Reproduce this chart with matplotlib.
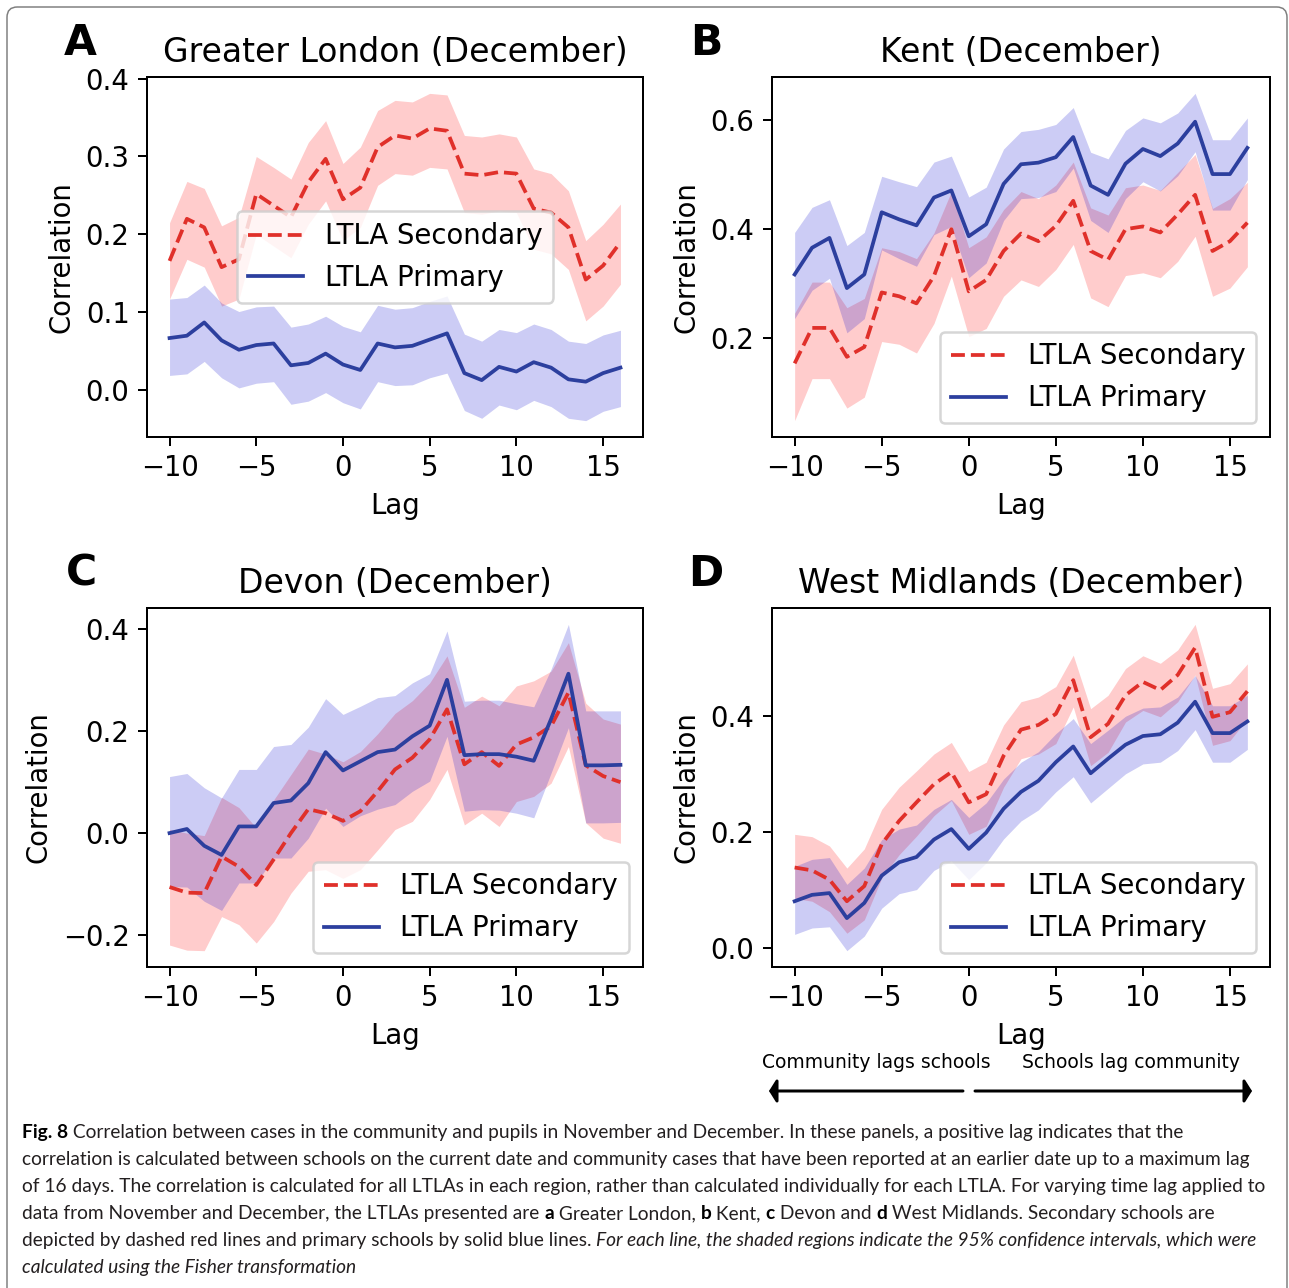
"""
Fig. 8: correlación entre casos en la comunidad y alumnos (noviembre/diciembre).
Cuatro paneles con IC 95 % sombreados y pie de figura debajo.
"""

import matplotlib
matplotlib.use("Agg")  # sin ventana
import matplotlib.pyplot as plt
from matplotlib.patches import FancyBboxPatch, FancyArrowPatch

ANCHO, ALTO, DPI = 1289, 1288, 180

plt.rcParams["font.size"] = 11

# ---------------------------------------------------------------------------
# Datos (lag -10 ... 16)
# ---------------------------------------------------------------------------
LAGS = [-10, -9, -8, -7, -6, -5, -4, -3, -2, -1, 0, 1, 2, 3, 4, 5,
        6, 7, 8, 9, 10, 11, 12, 13, 14, 15, 16]

# A: Greater London
A_sec = [0.166, 0.220, 0.209, 0.158, 0.168, 0.252, 0.237, 0.222, 0.267, 0.297, 0.245, 0.260, 0.312, 0.327,
         0.323, 0.336, 0.333, 0.278, 0.276, 0.280, 0.278, 0.233, 0.228, 0.209, 0.142, 0.160, 0.190]
A_sec_hi = [0.215, 0.268, 0.259, 0.211, 0.222, 0.300, 0.286, 0.271, 0.318, 0.346, 0.291, 0.312, 0.359, 0.372,
            0.370, 0.381, 0.379, 0.327, 0.325, 0.329, 0.325, 0.284, 0.278, 0.256, 0.192, 0.213, 0.239]
A_sec_lo = [0.117, 0.168, 0.158, 0.108, 0.117, 0.200, 0.185, 0.170, 0.213, 0.243, 0.192, 0.209, 0.263, 0.278,
            0.276, 0.286, 0.284, 0.228, 0.226, 0.230, 0.228, 0.181, 0.175, 0.155, 0.089, 0.108, 0.136]
A_pri = [0.067, 0.070, 0.087, 0.064, 0.052, 0.058, 0.060, 0.032, 0.035, 0.047, 0.033, 0.026, 0.060, 0.055,
         0.057, 0.065, 0.073, 0.022, 0.013, 0.030, 0.024, 0.036, 0.029, 0.014, 0.011, 0.022, 0.029]
A_pri_hi = [0.117, 0.119, 0.135, 0.112, 0.101, 0.107, 0.108, 0.081, 0.085, 0.095, 0.082, 0.075, 0.109, 0.104,
            0.106, 0.114, 0.121, 0.072, 0.063, 0.078, 0.074, 0.085, 0.078, 0.063, 0.060, 0.071, 0.077]
A_pri_lo = [0.019, 0.021, 0.037, 0.016, 0.003, 0.009, 0.011, -0.018, -0.014, -0.003, -0.016, -0.024, 0.011, 0.006,
            0.007, 0.016, 0.022, -0.026, -0.036, -0.019, -0.025, -0.013, -0.021, -0.036, -0.039, -0.027, -0.021]

# B: Kent
B_sec = [0.153, 0.218, 0.218, 0.165, 0.183, 0.283, 0.276, 0.263, 0.313, 0.399, 0.285, 0.306, 0.359, 0.391,
         0.377, 0.405, 0.451, 0.359, 0.343, 0.399, 0.404, 0.393, 0.426, 0.462, 0.359, 0.377, 0.411]
B_sec_hi = [0.245, 0.302, 0.302, 0.255, 0.272, 0.365, 0.358, 0.345, 0.392, 0.468, 0.365, 0.385, 0.435, 0.468,
            0.455, 0.480, 0.522, 0.438, 0.425, 0.475, 0.480, 0.470, 0.503, 0.536, 0.437, 0.455, 0.485]
B_sec_lo = [0.048, 0.125, 0.125, 0.071, 0.091, 0.193, 0.188, 0.172, 0.226, 0.313, 0.202, 0.217, 0.276, 0.306,
            0.294, 0.325, 0.371, 0.273, 0.257, 0.314, 0.319, 0.310, 0.340, 0.386, 0.276, 0.291, 0.330]
B_pri = [0.316, 0.365, 0.383, 0.291, 0.316, 0.430, 0.417, 0.406, 0.457, 0.470, 0.386, 0.408, 0.482, 0.518,
         0.521, 0.531, 0.568, 0.479, 0.462, 0.519, 0.546, 0.533, 0.556, 0.596, 0.500, 0.500, 0.548]
B_pri_hi = [0.393, 0.439, 0.453, 0.369, 0.393, 0.496, 0.486, 0.477, 0.522, 0.533, 0.458, 0.476, 0.546, 0.578,
            0.582, 0.591, 0.622, 0.540, 0.528, 0.580, 0.603, 0.594, 0.612, 0.648, 0.563, 0.563, 0.603]
B_pri_lo = [0.235, 0.287, 0.309, 0.209, 0.235, 0.361, 0.345, 0.331, 0.389, 0.404, 0.310, 0.337, 0.415, 0.455,
            0.457, 0.468, 0.511, 0.415, 0.393, 0.455, 0.486, 0.469, 0.497, 0.541, 0.434, 0.434, 0.490]

# C: Devon
C_sec = [-0.106, -0.117, -0.118, -0.046, -0.066, -0.102, -0.052, 0.000, 0.047, 0.039, 0.024, 0.043, 0.082, 0.125,
         0.148, 0.184, 0.243, 0.135, 0.159, 0.132, 0.174, 0.188, 0.210, 0.276, 0.133, 0.112, 0.100]
C_sec_hi = [0.007, 0.000, -0.005, 0.070, 0.050, 0.010, 0.065, 0.115, 0.165, 0.155, 0.140, 0.160, 0.195, 0.235,
            0.260, 0.295, 0.348, 0.247, 0.269, 0.250, 0.289, 0.299, 0.318, 0.374, 0.255, 0.224, 0.214]
C_sec_lo = [-0.220, -0.230, -0.231, -0.164, -0.180, -0.216, -0.174, -0.118, -0.075, -0.072, -0.089, -0.072, -0.033, 0.007,
            0.023, 0.066, 0.125, 0.016, 0.039, 0.013, 0.062, 0.072, 0.098, 0.170, 0.020, -0.010, -0.020]
C_pri = [0.000, 0.008, -0.025, -0.043, 0.013, 0.013, 0.059, 0.064, 0.098, 0.159, 0.123, 0.141, 0.159, 0.164,
         0.190, 0.211, 0.301, 0.153, 0.155, 0.155, 0.150, 0.142, 0.224, 0.313, 0.133, 0.133, 0.134]
C_pri_hi = [0.111, 0.117, 0.089, 0.069, 0.125, 0.125, 0.170, 0.174, 0.208, 0.264, 0.233, 0.249, 0.266, 0.270,
            0.295, 0.313, 0.397, 0.259, 0.261, 0.261, 0.254, 0.248, 0.322, 0.410, 0.240, 0.240, 0.240]
C_pri_lo = [-0.105, -0.106, -0.134, -0.152, -0.098, -0.098, -0.049, -0.049, -0.010, 0.049, 0.013, 0.034, 0.047, 0.056,
            0.082, 0.102, 0.190, 0.043, 0.046, 0.045, 0.039, 0.030, 0.118, 0.207, 0.020, 0.020, 0.021]

# D: West Midlands
D_sec = [0.139, 0.134, 0.118, 0.081, 0.107, 0.179, 0.219, 0.251, 0.282, 0.303, 0.251, 0.265, 0.331, 0.376,
         0.384, 0.403, 0.461, 0.363, 0.386, 0.435, 0.458, 0.444, 0.470, 0.517, 0.398, 0.406, 0.442]
D_sec_hi = [0.196, 0.192, 0.176, 0.138, 0.171, 0.239, 0.277, 0.305, 0.334, 0.354, 0.304, 0.320, 0.384, 0.424,
            0.432, 0.450, 0.504, 0.412, 0.435, 0.481, 0.503, 0.490, 0.513, 0.557, 0.447, 0.455, 0.489]
D_sec_lo = [0.086, 0.081, 0.063, 0.026, 0.049, 0.121, 0.161, 0.193, 0.228, 0.254, 0.196, 0.210, 0.277, 0.326,
            0.334, 0.352, 0.415, 0.314, 0.337, 0.389, 0.409, 0.398, 0.424, 0.470, 0.349, 0.357, 0.395]
D_pri = [0.081, 0.092, 0.095, 0.052, 0.078, 0.125, 0.148, 0.157, 0.187, 0.205, 0.171, 0.199, 0.240, 0.269,
         0.288, 0.320, 0.347, 0.301, 0.326, 0.350, 0.365, 0.368, 0.388, 0.424, 0.370, 0.370, 0.390]
D_pri_hi = [0.141, 0.153, 0.156, 0.110, 0.138, 0.187, 0.205, 0.212, 0.239, 0.256, 0.225, 0.250, 0.291, 0.320,
            0.338, 0.369, 0.395, 0.352, 0.375, 0.399, 0.413, 0.415, 0.432, 0.469, 0.417, 0.417, 0.435]
D_pri_lo = [0.024, 0.035, 0.037, -0.004, 0.021, 0.069, 0.094, 0.101, 0.134, 0.150, 0.118, 0.147, 0.188, 0.219,
            0.238, 0.269, 0.295, 0.250, 0.275, 0.300, 0.317, 0.320, 0.340, 0.376, 0.320, 0.320, 0.342]

TITULOS = ["Greater London (December)", "Kent (December)", "Devon (December)", "West Midlands (December)"]
LETRAS = ["A", "B", "C", "D"]
XTICKS = [-10, -5, 0, 5, 10, 15]

COLOR_SEC = "#e0302a"
COLOR_PRI = "#2c3f9e"
COLOR_TEXTO = "#231f20"


def fig_xy(x, y):
    """Píxeles de la imagen (origen arriba-izquierda) -> fracción de figura."""
    return x / ANCHO, 1 - y / ALTO


fig = plt.figure(figsize=(ANCHO / DPI, ALTO / DPI), dpi=DPI)

# marco gris redondeado alrededor de toda la figura
marco = FancyBboxPatch((7 / ANCHO, -0.05), 1280 / ANCHO, 1.05 - 7 / ALTO,
                       boxstyle="round,pad=0,rounding_size=0.008",
                       transform=fig.transFigure, fill=False,
                       edgecolor="#7f7f7f", linewidth=0.6)
fig.add_artist(marco)

paneles = [
    # (caja en px: izq, arriba, der, abajo), series, legend, yticks, letra en px
    ((147, 77, 643, 437), (A_sec, A_sec_lo, A_sec_hi, A_pri, A_pri_lo, A_pri_hi), "center",
     [0.0, 0.1, 0.2, 0.3, 0.4], (80, 43)),
    ((772, 77, 1270, 437), (B_sec, B_sec_lo, B_sec_hi, B_pri, B_pri_lo, B_pri_hi), "lower right",
     [0.2, 0.4, 0.6], (706, 43)),
    ((147, 608, 643, 967), (C_sec, C_sec_lo, C_sec_hi, C_pri, C_pri_lo, C_pri_hi), "lower right",
     [-0.2, 0.0, 0.2, 0.4], (81, 574)),
    ((772, 608, 1270, 967), (D_sec, D_sec_lo, D_sec_hi, D_pri, D_pri_lo, D_pri_hi), "lower right",
     [0.0, 0.2, 0.4], (706, 574)),
]

for i, (caja, series, loc, yticks, pos_letra) in enumerate(paneles):
    x0, y0, x1, y1 = caja
    ax = fig.add_axes([x0 / ANCHO, 1 - y1 / ALTO, (x1 - x0) / ANCHO, (y1 - y0) / ALTO])
    sec, sec_lo, sec_hi, pri, pri_lo, pri_hi = series

    ax.fill_between(LAGS, sec_lo, sec_hi, color="red", alpha=0.2, linewidth=0)
    ax.fill_between(LAGS, pri_lo, pri_hi, color="mediumblue", alpha=0.2, linewidth=0)
    ax.plot(LAGS, sec, "--", color=COLOR_SEC, label="LTLA Secondary")
    ax.plot(LAGS, pri, "-", color=COLOR_PRI, label="LTLA Primary")

    ax.set_title(TITULOS[i])
    ax.set_xlabel("Lag")
    ax.set_ylabel("Correlation")
    ax.set_xticks(XTICKS)
    ax.set_yticks(yticks)
    ax.legend(loc=loc)

    fx, fy = fig_xy(*pos_letra)
    fig.text(fx, fy, LETRAS[i], fontsize=17, fontweight="bold", ha="center", va="center")

# flechas de interpretación del lag bajo el panel D
fx, fy = fig_xy(876, 1062)
fig.text(fx, fy, "Community lags schools", fontsize=7.5, ha="center", va="center")
fx, fy = fig_xy(1131, 1062)
fig.text(fx, fy, "Schools lag community", fontsize=7.5, ha="center", va="center")
for ini, fin in [((963, 1091), (769, 1091)), ((975, 1091), (1252, 1091))]:
    flecha = FancyArrowPatch(fig_xy(*ini), fig_xy(*fin), transform=fig.transFigure,
                             arrowstyle="-|>,head_length=0.25,head_width=0.4",
                             mutation_scale=10, linewidth=1.2, color="black",
                             shrinkA=0, shrinkB=0)
    fig.add_artist(flecha)

# ---------------------------------------------------------------------------
# Pie de figura (negritas / cursivas por tramos)
# ---------------------------------------------------------------------------
LINEAS_PIE = [
    [("Fig. 8", "b"), (" Correlation between cases in the community and pupils in November and December. "
                       "In these panels, a positive lag indicates that the", "n")],
    [("correlation is calculated between schools on the current date and community cases that have been "
      "reported at an earlier date up to a maximum lag", "n")],
    [("of 16 days. The correlation is calculated for all LTLAs in each region, rather than calculated "
      "individually for each LTLA. For varying time lag applied to", "n")],
    [("data from November and December, the LTLAs presented are ", "n"), ("a", "b"), (" Greater London, ", "n"),
     ("b", "b"), (" Kent, ", "n"), ("c", "b"), (" Devon and ", "n"), ("d", "b"),
     (" West Midlands. Secondary schools are", "n")],
    [("depicted by dashed red lines and primary schools by solid blue lines. ", "n"),
     ("For each line, the shaded regions indicate the 95% confidence intervals, which were", "i")],
    [("calculated using the Fisher transformation", "i")],
]
BASES_PIE = [1138, 1165, 1192, 1219, 1246, 1273]

renderer = fig.canvas.get_renderer()

# tamaño de letra ajustado para que la tercera línea ocupe 22..1270 px
prueba = fig.text(0, 0, LINEAS_PIE[2][0][0], fontsize=6, family="Lato")
tam_pie = 6 * 1248 / prueba.get_window_extent(renderer=renderer).width
prueba.remove()

for partes, base in zip(LINEAS_PIE, BASES_PIE):
    x = 22
    for texto, estilo in partes:
        kw = dict(fontsize=tam_pie, family="Lato", color=COLOR_TEXTO, va="baseline")
        if estilo == "b":
            kw["fontweight"] = "bold"
            kw["color"] = "black"
        elif estilo == "i":
            kw["fontstyle"] = "italic"
        fx, fy = fig_xy(x, base)
        t = fig.text(fx, fy, texto, **kw)
        x = t.get_window_extent(renderer=renderer).x1

fig.savefig("out.png", dpi=DPI)
plt.close(fig)
print("OK")
